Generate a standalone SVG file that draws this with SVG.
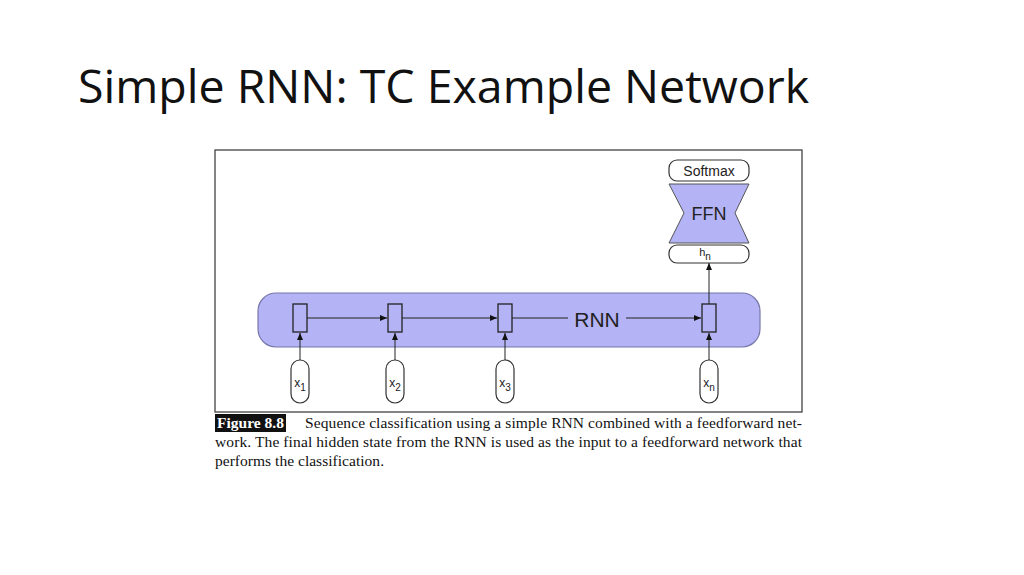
<svg xmlns="http://www.w3.org/2000/svg" width="1024" height="575" viewBox="0 0 1024 575">
<style>
.s{font-family:"Liberation Sans",Arial,sans-serif;fill:#222}
.c{font-family:"Liberation Serif","Times New Roman",serif;font-size:15.5px;fill:#111}
.cell{fill:#b3b3f5;stroke:#222;stroke-width:1.3}
.pill{fill:#fff;stroke:#333;stroke-width:1.2}
.ln{stroke:#222;stroke-width:1;fill:none;marker-end:url(#a)}
.pl{stroke:#222;stroke-width:1;fill:none}
</style>
<defs><marker id="a" markerWidth="8" markerHeight="8" refX="7" refY="4" orient="auto" markerUnits="userSpaceOnUse"><path d="M0,1 L7,4 L0,7z" fill="#111"/></marker></defs>
<rect width="1024" height="575" fill="#fff"/>
<text x="78" y="103" font-family="'Open Sans','Noto Sans',sans-serif" font-size="46.5" fill="#111">Simple RNN: TC Example Network</text>
<rect x="215" y="150" width="587" height="262" fill="#fff" stroke="#333" stroke-width="1.2"/>
<g id="rnn"><rect x="258" y="293" width="502" height="54" rx="18" fill="#b3b3f5" stroke="#7777aa" stroke-width="1.2"/>
<text x="597" y="327" class="s" font-size="21" text-anchor="middle">RNN</text></g>
<g id="h1"><rect class="cell" x="293" y="304" width="14" height="28"/></g>
<g id="h2"><rect class="cell" x="388" y="304" width="14" height="28"/></g>
<g id="h3"><rect class="cell" x="498" y="304" width="14" height="28"/></g>
<g id="hn"><rect class="cell" x="702" y="304" width="14" height="28"/></g>
<g id="x1"><rect class="pill" x="291" y="360" width="18" height="43" rx="9"/><text x="300" y="387" class="s" font-size="12" text-anchor="middle">x<tspan font-size="10" dy="4">1</tspan></text></g>
<g id="x2"><rect class="pill" x="386" y="360" width="18" height="43" rx="9"/><text x="395" y="387" class="s" font-size="12" text-anchor="middle">x<tspan font-size="10" dy="4">2</tspan></text></g>
<g id="x3"><rect class="pill" x="496" y="360" width="18" height="43" rx="9"/><text x="505" y="387" class="s" font-size="12" text-anchor="middle">x<tspan font-size="10" dy="4">3</tspan></text></g>
<g id="xn"><rect class="pill" x="700" y="360" width="18" height="43" rx="9"/><text x="709" y="387" class="s" font-size="12" text-anchor="middle">x<tspan font-size="10" dy="4">n</tspan></text></g>
<g id="softmax"><rect class="pill" x="669" y="160" width="80" height="21" rx="8"/><text x="709" y="176" class="s" font-size="14" text-anchor="middle">Softmax</text></g>
<g id="ffn"><path d="M669,184 L749,184 L735,213 L749,243 L669,243 L684,213 Z" fill="#b3b3f5" stroke="#555" stroke-width="1"/><text x="709" y="220" class="s" font-size="18" fill="#1a1a40" text-anchor="middle">FFN</text></g>
<g id="hnout"><rect class="pill" x="669" y="245" width="80" height="18" rx="8"/><text x="705" y="256" class="s" font-size="11" text-anchor="middle">h<tspan font-size="10" dy="4">n</tspan></text></g>
<g id="connectors">
<path class="ln" d="M307,318 H387"/><path class="ln" d="M402,318 H497"/>
<path class="pl" d="M512,318 H568"/><path class="ln" d="M626,318 H701"/>
<path class="ln" d="M300,360 V333"/><path class="ln" d="M395,360 V333"/>
<path class="ln" d="M505,360 V333"/><path class="ln" d="M709,360 V333"/>
<path class="ln" d="M709,304 V263"/>
</g>
<rect x="215" y="414" width="71" height="18" fill="#111"/>
<text x="217" y="428" class="c" font-weight="bold" style="fill:#fff" textLength="67">Figure 8.8</text>
<text x="305" y="428" class="c" textLength="497">Sequence classification using a simple RNN combined with a feedforward net-</text>
<text x="215" y="447" class="c" textLength="587">work. The final hidden state from the RNN is used as the input to a feedforward network that</text>
<text x="215" y="466" class="c" textLength="169">performs the classification.</text>
</svg>
